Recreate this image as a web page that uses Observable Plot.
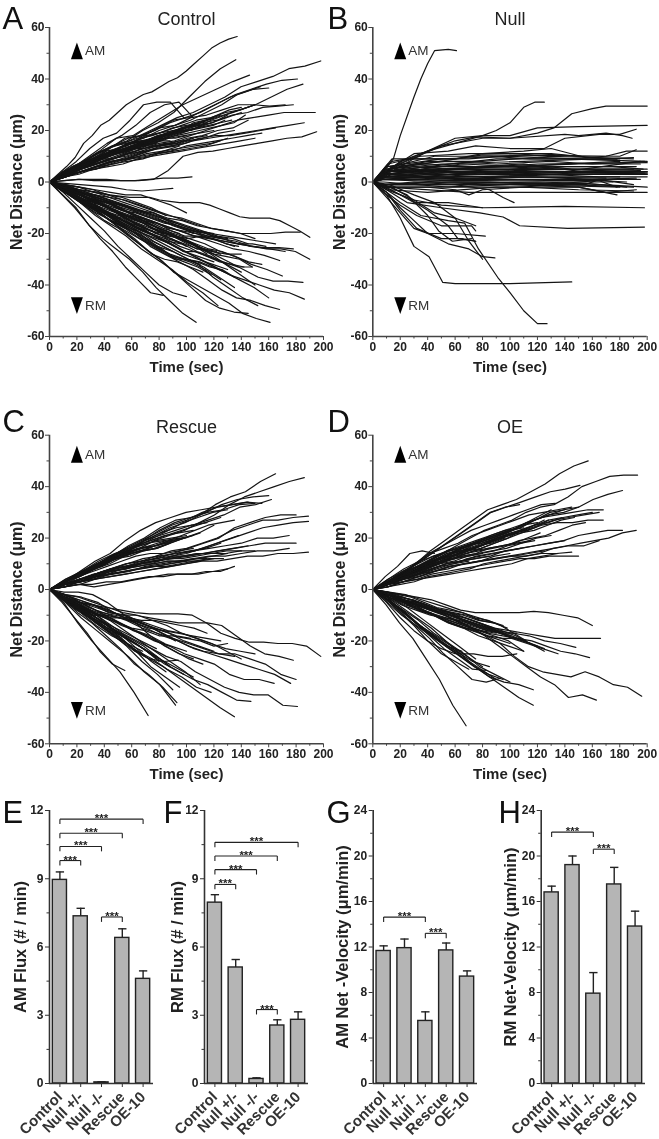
<!DOCTYPE html>
<html><head><meta charset="utf-8">
<script src="https://cdn.jsdelivr.net/npm/d3@7"></script>
<script src="https://cdn.jsdelivr.net/npm/@observablehq/plot@0.6"></script>
<style>html,body{margin:0;padding:0;background:#fff;overflow:hidden}#page{position:relative;width:659px;height:1139px;overflow:hidden}</style>
</head><body><div id="page"></div>
<script>
// Each even track: [end time, y samples evenly spaced in time after (0,0)]
const controlTracks = [
[137,3,6,9.5,15,18,22,24,27,30,32,34,35,37,39,40.5,43,46,49,52,54,55.5,56.5],
[136,3,7,11,14,16,20,23,27,33,39,44,47.5],
[146,4,8,12,17,18,22,26,30,33,36,39,41.5],
[198,3,7,11,14,16,19,22,25,27,30,33,37,39,41,44,45,47],
[181,3,6,9,12,14,18,21,24,25,28,31,34,36,38,39.5,40],
[185,2,5,8,11,13,15,18,20,22,24,26,28,30,33,36,38],
[160,4,7,10,12,15,17,20,22,24,27,30,34,36,36.5],
[154,3,6,9,13,17,18,20,23,25,27,30,33,35,37],
[178,3,5,8,11,12,14,17,19,21,23,24,26,27,29,29.5,30],
[172,2,6,10,14,17,18,21,22,25,26,28,30,30,29.5,30],
[194,2,5,7,9,11,13,15,16,18,20,22,24,25,26,27,27,27],
[186,2,4,6,8,10,12,13,14,16,17,18,19,20,21,22,23],
[195,0.5,1,0.5,0.5,0.5,0.5,1,4.5,10,11.5,12,13,14,15,16,17,17.5,19.5],
[104,0.5,1,1,1,0.5,0.5,1,1.5,1.5,2],
[98,4,8,13,17,19,24,30,31,31,25],
[105,4,7,11,15,18,22,27,30,31,25],
[150,3,7,10,13,15,17,18,20,22,24,25,27,28,30],
[140,3,6,9,11,13,15,17,18,20,21,23,25,27],
[130,3,6,9,10,12,15,17,19,20,22,23,26],
[150,3,5,7,9,11,13,15,17,19,21,24,26,28,30],
[120,2,5,8,11,13,15,18,19,21,22,23,25],
[125,3,6,8,11,15,17,19,20,22,24,26],
[110,3,5,8,10,13,15,16,18,20,21,22],
[145,3,5,7,9,10,12,14,15,17,18,20,21,24],
[135,2,4,6,8,9,11,13,14,16,17,19,20],
[165,2,4,6,8,9,11,13,14,15,17,18,18,19,20,21],
[155,2,4,5,7,9,10,11,12,14,15,16,17,18,19],
[120,3,6,9,11,12,14,15,17,18,19,20],
[100,3,6,8,10,12,14,16,18,20],
[115,2,5,7,9,11,13,14,15,17,18],
[90,3,6,9,11,13,15,17,19],
[130,2,4,6,7,9,11,12,13,14,15,17],
[95,2,4,6,8,9,10,12,14],
[105,3,5,7,9,11,12,14,15,17],
[85,3,6,9,12,14,16,17],
[125,2,4,5,7,8,9,11,12,13,14,16],
[150,2,3,5,6,7,9,10,11,12,13,14,15,16,17],
[140,2,4,6,9,10,12,14,14,17,19,20,23,24,26,28,29],
[118,2,4,5,8,9,11,12,14,15,16,17,19,20,20,22,23],
[128,3,5,7,8,10,12,13,15,16,18,19,20,21,22,24],
[92,3,5,7,8,10,11,12,13,13,14,15,15],
[78,2,4,7,9,10,12,13,13,14,15],
[110,2,3,6,7,9,9,11,12,14,14,15,16,16,17],
[100,3,6,8,9,12,13,15,16,17,17,17,18],
[88,3,4,6,8,9,11,12,14,15,16,16],
[133,2,4,7,9,10,11,12,14,16,17,19,20,21,22,23,24],
[115,3,5,7,9,12,14,15,16,18,19,21,22,23],
[105,2,5,8,9,11,12,14,16,18,19,21,22],
[75,4,6,9,12,14,15,16,16],
[143,3,6,8,9,10,12,13,14,15,17,18,19,20,21,22,23,26],
[90,-0.5,-1,-1.5,-2,-3,-3.5,-3,-2.5],
[107,-5,-10,-17,-22,-26,-30,-35,-41,-46,-51,-54.5],
[83,-5,-10,-16,-22,-27,-33,-38,-43,-44],
[100,-4,-9,-14,-19,-25,-30,-35,-40,-43,-44.5],
[161,-3,-7,-11,-15,-18,-22,-26,-30,-35,-38,-41,-44,-47,-51,-53,-54.5],
[123,-4,-8,-13,-17,-21,-26,-30,-34,-39,-43,-48],
[168,-3,-7,-10,-13,-17,-20,-25,-28,-31,-34,-38,-42,-45,-46,-48,-49.5],
[145,-3,-6,-10,-14,-18,-22,-27,-31,-36,-41,-46,-49,-50.5,-51],
[186,-3,-6,-9,-12,-15,-18,-21,-24,-27,-30,-33,-36,-38,-40,-42,-43,-45.5],
[185,-2,-5,-8,-10,-13,-15,-18,-20,-22,-25,-28,-31,-34,-37,-38.5,-38.5,-39],
[190,-2,-4,-6,-9,-11,-13,-15,-17,-19,-21,-22,-23,-24,-25,-26,-26,-27,-30],
[190,-1,-2,-3,-3.5,-4,-5,-5.5,-6,-6,-6,-7,-7.5,-8,-8,-8,-9,-10.5,-12,-13.5,-14,-14,-14,-15,-17,-19,-21.5],
[183,-2,-4,-5,-7,-9,-11,-12,-14,-15,-17,-18,-19,-20,-20,-20,-19.5,-19.5],
[172,-2,-4,-6,-8,-10,-13,-15,-17,-19,-20,-22,-24,-25,-26,-27],
[178,-2,-4,-6,-8,-11,-12,-14,-16,-17,-19,-21,-22,-23,-25,-25.5,-25.5,-26],
[165,-2,-4,-7,-9,-11,-13,-15,-17,-19,-20,-21,-22,-23,-24],
[168,-2,-5,-7,-10,-13,-14,-16,-18,-20,-22,-24,-26,-27,-28.5,-30.5],
[170,-3,-5,-8,-11,-13,-15,-18,-20,-22,-24,-27,-29,-32,-34,-36.5],
[160,-3,-6,-9,-12,-15,-18,-20,-23,-26,-29,-32,-35,-38,-41,-45],
[152,-3,-6,-10,-13,-16,-19,-23,-26,-29,-32,-37,-41,-45,-48],
[148,-3,-6,-8,-12,-15,-18,-20,-22,-25,-27,-29,-31,-33,-33],
[150,-2,-5,-7,-10,-12,-14,-17,-19,-22,-25,-28,-32,-36,-40],
[140,-3,-6,-9,-13,-15,-17,-19,-22,-24,-27,-29,-32,-35],
[130,-4,-7,-10,-13,-16,-19,-22,-25,-28,-30,-32,-34],
[120,-3,-6,-8,-10,-14,-17,-21,-24,-27,-29,-31],
[115,-3,-5,-7,-9,-12,-15,-18,-21,-24,-28],
[125,-3,-5,-8,-11,-14,-16,-19,-21,-24,-26,-28],
[110,-4,-7,-11,-15,-18,-22,-25,-28,-30,-32],
[135,-2,-4,-6,-8,-10,-12,-14,-17,-19,-21,-23,-25],
[145,-2,-4,-5,-7,-9,-11,-13,-15,-17,-19,-21,-22,-24],
[100,-3,-6,-9,-12,-14,-17,-20,-22,-25],
[95,-2,-4,-7,-9,-12,-15,-18,-20],
[105,-2,-4,-6,-8,-10,-12,-14,-17,-20],
[90,-4,-7,-10,-13,-17,-21,-25,-27],
[130,-2,-3,-5,-7,-9,-11,-13,-15,-17,-19,-21,-22],
[120,-2,-3,-5,-6,-8,-10,-12,-15,-17,-19,-20],
[85,-1,-2,-3,-5,-6,-8,-10,-13],
[110,-1,-3,-4,-6,-7,-9,-11,-13,-15,-17],
[150,-1,-2,-4,-5,-7,-9,-11,-13,-14,-16,-18,-19,-20,-22],
[140,-3,-5,-8,-10,-13,-15,-17,-20,-23,-26,-27,-28,-28],
[100,-1,-2,-3,-4,-5,-5,-7,-9,-12],
[125,-4,-8,-12,-15,-18,-22,-26,-29,-31,-34,-38],
[135,-4,-8,-11,-15,-18,-21,-24,-27,-30,-33,-37,-41],
[142,-2,-5,-7,-10,-13,-14,-17,-19,-22,-24,-27,-27,-29,-31,-32,-33],
[135,-3,-6,-9,-11,-14,-17,-20,-23,-26,-29,-30,-31,-33,-34,-37],
[128,-3,-5,-8,-11,-14,-17,-19,-23,-26,-30,-30,-31,-33,-35],
[118,-3,-6,-10,-13,-17,-20,-23,-26,-29,-31,-33,-36],
[112,-2,-6,-9,-12,-16,-20,-24,-28,-30,-31,-33,-35],
[155,-2,-5,-8,-10,-12,-15,-17,-20,-21,-22,-24,-26,-27,-29,-31,-32],
[148,-1,-3,-6,-8,-11,-14,-16,-18,-20,-21,-23,-26,-28,-29,-30,-33],
[122,-2,-4,-6,-9,-11,-13,-15,-18,-20,-22,-24,-26,-27],
[108,-2,-4,-7,-9,-11,-14,-16,-19,-22,-24,-26],
[96,-3,-5,-8,-11,-13,-16,-19,-21,-23,-24],
[88,-3,-6,-9,-11,-15,-18,-20,-22,-24],
[138,-2,-4,-6,-8,-11,-14,-17,-19,-20,-21,-22,-21,-22,-24,-25],
[126,-1,-3,-5,-7,-9,-12,-15,-16,-18,-19,-20,-21,-22],
[158,-2,-3,-5,-7,-10,-12,-14,-16,-19,-21,-21,-22,-23,-24,-24,-25]
];
// Each pair track: t,y,t,y... after (0,0)
const nullTracks = [
[15,9,20,18,30,33,35,40,40,46,45,51,55,51.5,61,51],
[20,8,40,12,60,15,80,18,90,20,100,23,110,29,118,31,125,31],
[20,6,40,12,60,17,80,18,100,18,120,21,150,21.5,200,22],
[20,7,50,14,80,17,100,17,120,19,132,21,145,26.5,160,28.5,170,29.5,200,29.5],
[15,6,35,11,60,16,75,17.5,100,17,140,18.5,150,18,170,19,182,18,189,17],
[14,8,25,9,60,9,80,11,110,12,130,13,155,9.5,170,10,185,12,200,12],
[18,7,30,11,55,12,75,14,100,13,125,13,140,17,165,18.5,180,18.5,192,20.5],
[12,5,80,10.5,180,10,192,12.5],
[14,9,70,9,120,11,178,9],
[10,4,40,6,90,9,140,9,200,8],
[10,5,50,7,110,8,190,9.5],
[12,3,60,5,120,7,200,7.5],
[8,4,40,6,100,6,180,8],
[10,3,50,5,100,6,150,7,195,7],
[8,3,30,4,70,5,130,5,200,5],
[10,2,50,4,110,5,195,4.5],
[8,4,60,4,140,4,200,4],
[8,3,50,3.5,100,4,160,3.5,200,3.5],
[6,2,50,3,120,3,190,4],
[9,4,40,5,90,6,140,5,185,4],
[7,1,60,3,150,3,200,3],
[8,3,50,2,110,2.5,200,3.5],
[10,2,50,2,130,2,180,2],
[6,1,40,1,100,2,170,1.5],
[7,2,60,1,130,1,195,1],
[8,1,60,0.5,150,1,185,0],
[6,1,50,0,140,0,175,0],
[8,-1,60,0,120,-0.5,190,-2],
[9,-1,50,-1,110,-1,180,-2],
[6,-1,60,-1,150,-0.5,200,-2],
[8,-2,50,-2,100,-1,150,-2,178,-5],
[10,-2,40,-2,60,-3,70,-5,80,-3,110,-2,150,-3,190,-3.5],
[10,-2,70,-4,150,-4,200,-4],
[12,-3,40,-4,90,-2,150,-2,170,-4,192,-3],
[8,-1,30,0,60,-1,85,-3,95,-6,103,-8],
[12,5,40,8,80,8,130,10,190,9],
[10,6,50,9,100,10,150,9,180,8.5],
[14,6,45,10,85,10,115,9,178,9],
[10,4,70,5,140,4,195,8],
[11,7,35,10,70,11,130,11,150,10],
[9,3,40,5,80,3,125,4,200,4],
[10,5,30,7,55,8,90,7,130,8,160,7,198,8],
[9,4,30,6,60,5,100,5,140,6,175,6,197,5],
[11,6,40,7,75,6,110,7,145,5,190,5],
[8,2,30,5,70,3,120,4,165,4,198,3.5],
[10,3,35,2,80,4,125,3,170,3,199,3],
[7,3,25,3,65,4,105,3,150,4,195,4],
[12,4,35,5,65,7,110,6,150,6,192,6],
[9,2,40,3,85,2,125,3,165,2,200,2],
[6,2,30,2,70,1,115,2,160,1,192,1.5],
[7,1,45,2,90,1,135,0.5,170,0.5,190,-1],
[8,-1,35,-1,75,-0.5,120,0,155,-0.5,185,-2],
[10,3,25,4,55,3,95,4,135,4,200,3],
[7,-1,40,0,85,0,125,-1,155,-1,165,1],
[8,0,55,-2,110,-2,150,0,165,0.5,178,-2],
[10,-3,30,-7,50,-9,80,-10,140,-9.5,198,-10],
[10,-3,25,-8,50,-10,78,-12,95,-13.6,107,-17,142,-18,198,-17.5],
[10,-5,20,-14,30,-25,41,-29,51,-39,60,-39.5,100,-39.5,145,-38.8],
[10,-4,20,-8,35,-13,55,-15,67,-16,77,-26,91,-37,100,-43,110,-50,120,-55,127,-55],
[10,-4,20,-10,30,-15,40,-20,55,-24,70,-26,80,-29,89,-29.5],
[10,-6,20,-12,30,-18,40,-20,60,-20,82,-21],
[10,-4,20,-11,32,-18,50,-22,65,-22,75,-23],
[12,-3,25,-6,40,-11,55,-17,62,-22,75,-23],
[14,-2,30,-7,45,-12,60,-14,70,-23,80,-30],
[12,-1,30,-5,45,-8,60,-14,75,-17],
[10,-5,20,-9,32,-13,50,-17,72,-17,75,-19],
[12,-2,25,-5,40,-13,48,-19,58,-23,72,-22],
[10,-2,30,-8,55,-8,80,-10]
];
const rescueTracks = [
[165,3,6,9,12,14,18,21,24,26,29,33,36,38,42,45],
[186,3,6,8,11,14,16,19,21,23,26,29,33,36,38,40,42,43.5],
[160,3,6,9,13,15,19,23,26,28,30,33,35,36,36.5],
[162,3,6,9,12,15,19,22,24,25,27,29,32,33,35],
[150,3,6,10,13,17,20,24,27,28,30,31,33,33.5],
[155,3,7,11,14,19,23,26,28,30,31,32,33,34,33.5],
[145,3,6,9,13,16,19,22,25,27,30,32,33,34],
[130,3,5,8,11,14,17,20,23,26,28,30,31],
[125,3,6,9,12,15,18,20,22,24,26,28],
[115,4,7,10,13,16,19,21,23,25,26],
[105,3,6,9,12,15,17,19,21,22,23],
[100,3,6,9,13,15,17,19,20,21],
[95,4,7,11,14,16,18,19,20],
[85,3,7,10,13,15,17,19],
[90,3,6,8,11,14,16,17,19],
[110,3,5,8,10,13,15,17,19,20,22],
[120,2,5,8,11,13,15,16,18,20,22,25],
[75,3,6,9,12,14,16,17],
[105,3,5,8,11,13,14,16,17,18,20,21],
[98,2,5,7,10,12,14,15,16,18,20],
[88,3,5,8,10,12,13,15,16,18],
[135,3,5,8,9,12,14,15,17,19,21,23,25,26,27],
[180,2,4,6,8,10,11,12,14,16,18,20,24,26,28,29,29],
[189,2,4,6,8,10,11,13,15,16,18,20,23,25,27,27,28,28.5],
[189,2,4,5,7,8,10,11,13,14,16,18,20,22,24,25,26,26.5],
[175,2,4,6,8,9,11,13,14,15,16,17,18,20,20,21],
[180,2,3,5,7,8,10,11,12,13,14,15,16,17,18,18,18],
[175,2,3,5,6,7,9,10,11,12,13,13,14,15,15,16],
[189,1,2,4,5,6,7,8,9,10,11,11,12,13,13,14,14,14.5],
[135,1,2,2,3,3,4,5,5,6,6,7,7,9],
[130,1,2,1,2,3,4,5,6,6,6,7,8],
[150,2,4,6,7,9,10,11,12,12,13,14,14,15,15],
[140,2,3,5,7,8,10,11,12,13,14,14,15,15],
[130,2,4,5,7,8,9,10,11,11,12,13,14],
[120,2,3,5,6,7,8,9,10,11,11,12],
[110,2,3,4,5,6,7,8,9,10,11],
[100,1,3,4,6,7,8,9,10,11],
[105,3,5,7,9,11,13,14,14,15,16],
[125,2,4,6,8,10,12,13,14,15,16,18],
[145,2,4,6,8,9,11,12,13,13,14,15,16,17],
[115,2,3,5,7,8,9,10,10,11,11,12,12],
[127,1,3,4,6,7,8,9,9,10,11,12,12],
[138,2,3,5,6,8,9,10,12,14,15,17,19,21],
[108,2,4,5,7,8,10,11,12,13,14],
[198,-3,-5,-6,-7,-8,-9,-9.5,-9.5,-9.5,-10,-13,-17,-19,-20.5,-20.5,-21,-21,-22,-26],
[178,-2,-4,-6,-8,-10,-10,-11,-12,-13,-13,-13,-14,-18,-22,-25,-26,-27.5],
[180,-3,-5,-7,-9,-10,-13,-16,-19,-22,-24,-25,-25,-27,-29,-33,-35],
[176,-2,-3,-5,-9,-12,-15,-18,-20,-23,-25,-27,-29,-31,-33,-36.5],
[164,-3,-6,-9,-11,-14,-17,-20,-22,-25,-27,-29,-33,-35,-35,-36.5],
[181,-3,-6,-9,-13,-17,-20,-23,-26,-28,-32,-35,-38,-40,-41,-41,-45,-45.5],
[147,-3,-7,-11,-15,-18,-21,-25,-29,-32,-35,-37,-40,-43,-43.5],
[135,-4,-8,-12,-16,-20,-24,-27,-30,-34,-38,-42,-46,-49.5],
[72,-5,-13,-20,-26,-32,-40,-49],
[92,-5,-11,-16,-21,-26,-32,-37,-45],
[93,-4,-9,-13,-18,-23,-29,-33,-38,-44],
[55,-5,-11,-17,-24,-29,-31.5],
[125,-3,-7,-10,-10,-11,-13,-15,-16,-17,-18,-19,-20],
[130,-3,-6,-9,-11,-13,-15,-16,-18,-18,-19,-20,-22,-21],
[118,-4,-8,-12,-16,-20,-24,-27,-31,-34,-38,-40],
[90,-4,-8,-13,-17,-22,-28,-33,-39],
[95,-3,-7,-11,-15,-19,-24,-30,-34,-38],
[94,-2,-6,-10,-14,-19,-24,-27,-28,-27.5],
[110,-3,-6,-9,-12,-16,-20,-24,-28,-32,-37],
[105,-4,-7,-11,-14,-18,-21,-25,-28,-31,-34],
[85,-3,-6,-10,-14,-18,-23,-28,-32],
[80,-3,-6,-10,-15,-19,-23,-28],
[75,-4,-8,-12,-17,-21,-25],
[70,-3,-8,-13,-17,-22,-26],
[100,-2,-5,-8,-11,-14,-17,-20,-22,-24],
[120,-3,-5,-6,-8,-11,-13,-15,-17,-20,-22,-24],
[140,-2,-4,-6,-9,-10,-12,-14,-16,-17,-19,-21,-24,-27],
[135,-3,-5,-8,-10,-12,-15,-17,-19,-21,-23,-25,-26],
[105,-1,-1,-2,-5,-9,-13,-18,-22,-25,-27],
[150,-2,-3,-5,-7,-9,-10,-12,-14,-17,-19,-21,-23,-24,-25],
[88,-3,-7,-11,-14,-17,-20,-23,-26,-30],
[78,-4,-7,-11,-14,-17,-20,-23],
[68,-4,-9,-14,-18,-21,-24],
[98,-4,-8,-11,-13,-16,-19,-22,-26,-30,-33],
[112,-3,-5,-8,-10,-13,-16,-18,-21,-24,-27,-29],
[84,-3,-6,-9,-11,-14,-16,-18,-21],
[92,-4,-7,-10,-10,-11,-12,-14,-17,-20],
[103,-4,-6,-9,-11,-11,-12,-14,-16,-18,-19],
[115,-2,-4,-7,-9,-10,-11,-12,-12,-13,-14,-15,-17]
];
const oeTracks = [
[157,3,6,10,15,19,23,27,31,33,35,38,41,45,48,50],
[151,3,6,10,14,18,22,26,30,32,34,36,38,39,40.5],
[193,2,5,8,11,14,17,20,23,25,27,30,32,33,36,40,42,44,44.5,44.5],
[182,3,5,7,10,13,16,18,21,23,24,27,29,30,32,35,37,38.5],
[168,2,5,8,11,14,17,19,21,23,26,28,29,30,31,31],
[168,3,5,8,10,13,15,17,20,22,23,25,26,26,27,27],
[182,2,4,6,8,10,11,12,13,15,16,17,18,19,21,22,23,23],
[192,1,2,3,5,6,7,8,10,11,12,13,14,16,17,18,19,20,22,23],
[150,1,3,4,6,7,8,9,10,11,12,12,13,13,13],
[145,2,3,5,7,9,10,11,12,13,13,14,14,14.5],
[107,3,7,10,14,18,22,26,30,32,33],
[133,3,6,10,14,17,20,23,25,27,29,31,33,33.5],
[145,3,6,10,14,16,18,21,23,25,27,29,30,31,32],
[150,3,6,9,12,15,17,19,21,23,25,27,29,31,32],
[165,2,5,8,10,12,15,17,19,21,23,25,27,28,29,30],
[160,3,5,8,11,13,15,17,19,21,23,25,26,28,29,30],
[140,3,5,8,11,14,15,18,20,22,24,27,30,31],
[130,3,6,9,11,14,16,18,20,22,25,28,31],
[125,3,5,8,11,13,15,17,20,22,24,27],
[120,2,5,8,11,13,16,18,20,22,25,26],
[110,4,7,10,13,15,16,19,21,23,24],
[100,3,7,9,12,15,17,19,21,23],
[90,4,8,11,13,15,17,18,20],
[105,3,5,7,10,13,15,16,18,20,22],
[115,2,4,7,9,11,13,15,16,17,18,19],
[130,2,4,6,9,11,13,14,15,16,18,20,21],
[140,2,4,6,8,10,11,13,14,15,16,17,18,19],
[165,2,3,5,7,8,10,11,12,13,14,15,16,17,17,19],
[125,2,4,5,7,9,10,11,12,13,14,15],
[100,2,4,6,7,9,10,11,13,14],
[135,1,3,4,5,6,7,8,9,10,12,13,14],
[85,2,4,6,8,10,11,12,13],
[70,2,4,6,8,10,11],
[45,5,9,14,15,14],
[122,2,4,6,8,10,12,13,14,16,17,18,20,22],
[112,3,5,8,10,12,13,14,16,18,20,22,23],
[96,2,5,8,10,12,14,15,17,18,20],
[138,2,5,7,9,11,13,15,16,18,20,22,24,27,28],
[128,3,5,7,9,11,13,14,16,18,20,23,25,27],
[147,3,4,7,9,12,13,15,17,19,21,22,23,25,27,28],
[118,2,4,6,8,10,11,13,14,15,17,18,19],
[108,2,4,5,7,9,10,12,13,14,15,16],
[80,2,5,7,9,11,12,13,14],
[60,3,5,8,10,11,12],
[155,2,4,6,8,10,12,14,15,16,17,19,20,21,23,25,26],
[68,-6,-13,-19,-27,-35,-45,-53],
[160,-1,-2,-3,-4,-6,-8,-9,-9,-9,-9,-8.5,-9,-10,-11,-14],
[166,-2,-4,-5,-7,-9,-11,-13,-15,-16,-17,-18,-19,-19,-19,-19],
[158,-2,-4,-6,-8,-10,-13,-15,-17,-18,-19,-20,-22,-24,-25,-26.5],
[148,-2,-4,-6,-8,-10,-12,-14,-16,-17,-18,-20,-21,-22.5],
[135,-2,-4,-6,-8,-10,-12,-14,-16,-19,-21,-23,-25],
[196,-2,-4,-6,-8,-10,-12,-15,-18,-21,-26,-30,-32,-33,-34,-32,-34,-37,-38,-41.5],
[163,-2,-4,-6,-9,-11,-13,-15,-18,-22,-26,-30,-34,-37,-42,-41,-43],
[117,-4,-8,-13,-17,-22,-26,-30,-34,-38,-42,-45],
[117,-3,-7,-11,-15,-20,-25,-30,-34,-36,-37,-39],
[83,-3,-8,-13,-18,-23,-27,-31,-31.5],
[93,-4,-9,-14,-19,-25,-30,-35,-36,-34.5],
[105,-4,-8,-13,-17,-21,-25,-25,-26,-26,-25],
[100,-4,-8,-12,-17,-21,-25,-30,-33,-36],
[90,-4,-9,-14,-19,-23,-27,-31,-35],
[85,-5,-10,-15,-20,-24,-28,-30],
[80,-4,-9,-14,-18,-22,-26,-30],
[75,-3,-7,-12,-17,-22,-27],
[110,-2,-5,-7,-10,-12,-14,-16,-18,-20,-24],
[120,-2,-4,-6,-8,-10,-12,-14,-16,-18,-20,-22],
[115,-2,-4,-6,-8,-10,-13,-15,-17,-19,-21],
[105,-2,-4,-7,-9,-12,-14,-16,-18,-19,-19],
[100,-1,-3,-5,-7,-9,-12,-14,-16,-18],
[95,-3,-6,-8,-10,-12,-14,-16,-17],
[90,-2,-5,-8,-10,-13,-15,-16,-17],
[85,-3,-5,-7,-9,-12,-15,-17],
[100,-3,-5,-7,-10,-13,-15,-17,-19,-21],
[125,-2,-4,-5,-7,-8,-10,-12,-14,-16,-18,-21,-24],
[110,-3,-5,-8,-10,-13,-15,-18,-20,-22,-24],
[95,-1,-2,-4,-6,-8,-10,-12,-14],
[112,-1,-2,-3,-5,-7,-8,-9,-11,-12,-14,-17,-20],
[98,-1,-3,-4,-6,-8,-9,-10,-12,-13,-15],
[88,-2,-3,-5,-7,-9,-10,-12,-13],
[70,-5,-11,-16,-20,-25,-28,-31],
[65,-4,-8,-13,-18,-22,-24],
[95,-5,-10,-14,-18,-22,-26,-30,-33,-35],
[125,-1,-3,-4,-6,-8,-10,-11,-13,-15,-17,-19,-21,-23],
[105,-3,-6,-8,-10,-11,-12,-14,-16,-17,-17],
[60,-4,-9,-14,-20,-23,-25]
];
const categories = ["Control","Null +/-","Null -/-","Rescue","OE-10"];
const amFlux = [8.95,7.35,0.05,6.4,4.6];
const amFluxTop = [9.3,7.7,0.08,6.8,4.95];
const rmFlux = [7.95,5.1,0.2,2.55,2.8];
const rmFluxTop = [8.3,5.45,0.25,2.8,3.15];
const amVel = [11.65,11.9,5.5,11.7,9.4];
const amVelTop = [12.1,12.7,6.3,12.35,9.9];
const rmVel = [16.8,19.2,7.9,17.5,13.8];
const rmVelTop = [17.35,20,9.75,19,15.15];
// brackets: [from index, to index, level]
const amFluxBr = [[0,1,9.8],[0,2,10.42],[0,3,11],[0,4,11.62],[2,3,7.32]];
const rmFluxBr = [[0,1,8.75],[0,2,9.4],[0,3,10],[0,4,10.6],[2,3,3.25]];
const amVelBr = [[0,2,14.63],[2,3,13.2]];
const rmVelBr = [[0,2,22.1],[2,3,20.6]];
const timeTicks = [0,20,40,60,80,100,120,140,160,180,200];
const timeMinor = [10,30,50,70,90,110,130,150,170,190];
const distTicks = [-60,-40,-20,0,20,40,60];
const distMinor = [-50,-30,-10,10,30,50];

const FONT = "'Liberation Sans',Arial,sans-serif";
const INK = "#222";
const page = document.getElementById("page");
const evenRows = tr => tr.flatMap((a,k)=>{const n=a.length-1;return [{k,t:0,y:0},...a.slice(1).map((y,i)=>({k,t:a[0]*(i+1)/n,y}))];});
const pairRows = tr => tr.flatMap((a,k)=>{const r=[{k,t:0,y:0}];for(let i=0;i<a.length;i+=2)r.push({k,t:a[i],y:a[i+1]});return r;});
const tallUp = {draw(c,s){const r=Math.sqrt(s/Math.PI);c.moveTo(0,-r*1.4);c.lineTo(r,r*1.4);c.lineTo(-r,r*1.4);c.closePath();}};
const tallDown = {draw(c,s){const r=Math.sqrt(s/Math.PI);c.moveTo(0,r*1.4);c.lineTo(r,-r*1.4);c.lineTo(-r,-r*1.4);c.closePath();}};
function place(svg,left,top){Object.assign(svg.style,{position:"absolute",left:left+"px",top:top+"px",overflow:"visible",background:"transparent",fontFamily:FONT,filter:"blur(0.35px)"});page.appendChild(svg);}

function linePanel(o){
  place(Plot.plot({width:o.w,height:o.h,marginLeft:o.ml,marginRight:o.mr,marginTop:o.mt,marginBottom:o.mb,
    x:{domain:[0,200],axis:null},y:{domain:[-60,60],axis:null},
    marks:[
      Plot.line(o.rows,{x:"t",y:"y",z:"k",stroke:"#141414",strokeWidth:1.2,curve:"linear"}),
      Plot.ruleX([0],{stroke:"#444",strokeWidth:1.6}),
      Plot.ruleY([-60],{stroke:"#444",strokeWidth:1.6}),
      Plot.axisY({ticks:distTicks,tickSize:4,tickPadding:1,fontSize:12,fontWeight:700,stroke:"#444",fill:INK,label:null,tickFormat:d=>d}),
      Plot.axisY({ticks:distMinor,tickSize:2.5,text:null,label:null,stroke:"#444"}),
      Plot.axisX({ticks:timeTicks,tickSize:4,tickPadding:2,fontSize:12,fontWeight:700,stroke:"#444",fill:INK,label:null,anchor:"bottom",tickFormat:d=>d}),
      Plot.axisX({ticks:timeMinor,tickSize:2.5,text:null,label:null,anchor:"bottom",stroke:"#444"}),
      Plot.text(["Net Distance (μm)"],{frameAnchor:"left",textAnchor:"middle",rotate:-90,dx:-o.ml+o.yl,fontSize:16,fontWeight:700,fill:INK}),
      Plot.text(["Time (sec)"],{frameAnchor:"bottom",dy:35,fontSize:15,fontWeight:700,fill:INK}),
      Plot.text([o.title],{frameAnchor:"top",dy:-8,lineAnchor:"middle",fontSize:18,fill:INK}),
      Plot.text([o.letter],{frameAnchor:"top-left",dx:-o.ml+o.lx,dy:o.ly,lineAnchor:"bottom",textAnchor:"start",fontSize:31,fill:"#111"}),
      Plot.dot([[20,o.am]],{x:d=>d[0],y:d=>d[1],r:6,symbol:tallUp,fill:"#000",stroke:"none"}),
      Plot.dot([[20,o.rm]],{x:d=>d[0],y:d=>d[1],r:6,symbol:tallDown,fill:"#000",stroke:"none"}),
      Plot.text([[20,o.am,"AM"],[20,o.rm,"RM"]],{x:d=>d[0],y:d=>d[1],text:d=>d[2],dx:8,textAnchor:"start",fontSize:13.5,fill:"#333"})
    ]}),o.left,o.top);
}
function barPanel(o){
  const rows=categories.map((c,i)=>({c,i,v:o.vals[i],t:o.tops[i]}));
  const n=categories.length;
  place(Plot.plot({width:o.w,height:344,marginLeft:o.ml,marginRight:o.mr,marginTop:15,marginBottom:56,
    x:{domain:[0,n],axis:null},y:{domain:[0,o.max],axis:null},
    marks:[
      Plot.ruleX(rows,{x:d=>d.i+0.5,y1:"v",y2:"t",stroke:"#222",strokeWidth:1.4}),
      Plot.link(rows,{x1:d=>d.i+0.3,x2:d=>d.i+0.7,y1:"t",y2:"t",stroke:"#222",strokeWidth:1.4}),
      Plot.rectY(rows,{x1:d=>d.i+0.16,x2:d=>d.i+0.84,y1:0,y2:"v",fill:"#b5b5b5",stroke:"#222",strokeWidth:1.4}),
      Plot.ruleX([0],{stroke:"#333",strokeWidth:1.6}),
      Plot.ruleY([0],{stroke:"#333",strokeWidth:1.6}),
      Plot.axisY({ticks:o.major,tickSize:4,tickPadding:2,fontSize:12,fontWeight:700,stroke:"#333",fill:INK,label:null,tickFormat:d=>d}),
      Plot.axisY({ticks:o.minor,tickSize:2.5,text:null,label:null,stroke:"#333"}),
      Plot.axisX({ticks:rows.map(d=>d.i+0.5),tickFormat:d=>categories[d-0.5],tickSize:4,tickPadding:7,tickRotate:-45,fontSize:15,fontWeight:700,stroke:"#333",fill:"#333",label:null,anchor:"bottom"}),
      Plot.link(o.br,{x1:d=>d[0]+0.5,x2:d=>d[1]+0.5,y1:d=>d[2],y2:d=>d[2],stroke:"#222",strokeWidth:1.1}),
      Plot.link(o.br,{x:d=>d[0]+0.5,y1:d=>d[2],y2:d=>d[2]-o.max*0.018,stroke:"#222",strokeWidth:1.1}),
      Plot.link(o.br,{x:d=>d[1]+0.5,y1:d=>d[2],y2:d=>d[2]-o.max*0.018,stroke:"#222",strokeWidth:1.1}),
      Plot.text(o.br,{x:d=>(d[0]+d[1])/2+0.5,y:d=>d[2],text:()=>"***",lineAnchor:"bottom",dy:3,fontSize:11.5,fontWeight:700,fill:"#222"}),
      Plot.text([o.label],{frameAnchor:"left",textAnchor:"middle",rotate:-90,dx:-o.ml+o.yl,fontSize:16.5,fontWeight:700,fill:INK}),
      Plot.text([o.letter],{frameAnchor:"top-left",dx:-o.ml+o.lx,dy:o.ly,lineAnchor:"bottom",textAnchor:"start",fontSize:31,fill:"#111"})
    ]}),o.left,795);
}
linePanel({rows:evenRows(controlTracks),left:0,top:0,w:329,h:385,ml:49,mr:6,mt:27,mb:49,title:"Control",letter:"A",lx:2,ly:1,yl:16,am:50.9,rm:-48});
linePanel({rows:pairRows(nullTracks),left:329,top:0,w:330,h:385,ml:43.3,mr:12.3,mt:27,mb:49,title:"Null",letter:"B",lx:-2,ly:1,yl:10,am:50.9,rm:-48});
linePanel({rows:evenRows(rescueTracks),left:0,top:385,w:329,h:400,ml:49,mr:6,mt:49.7,mb:41.7,title:"Rescue",letter:"C",lx:2,ly:-3,yl:16,am:52.6,rm:-47});
linePanel({rows:evenRows(oeTracks),left:329,top:385,w:330,h:400,ml:43.3,mr:12.3,mt:49.7,mb:41.7,title:"OE",letter:"D",lx:-2,ly:-3,yl:10,am:52.6,rm:-47});
barPanel({vals:amFlux,tops:amFluxTop,br:amFluxBr,max:12,major:[0,3,6,9,12],minor:[1.5,4.5,7.5,10.5],left:0,w:163,ml:49,mr:10,label:"AM Flux (# / min)",yl:20,letter:"E",lx:2,ly:12});
barPanel({vals:rmFlux,tops:rmFluxTop,br:rmFluxBr,max:12,major:[0,3,6,9,12],minor:[1.5,4.5,7.5,10.5],left:163,w:163,ml:41,mr:18,label:"RM Flux (# / min)",yl:14,letter:"F",lx:0,ly:12});
barPanel({vals:amVel,tops:amVelTop,br:amVelBr,max:24,major:[0,4,8,12,16,20,24],minor:[2,6,10,14,18,22],left:326,w:172,ml:46.7,mr:21,label:"AM Net -Velocity (μm/min)",yl:16,letter:"G",lx:0,ly:12});
barPanel({vals:rmVel,tops:rmVelTop,br:rmVelBr,max:24,major:[0,4,8,12,16,20,24],minor:[2,6,10,14,18,22],left:498,w:161,ml:42.7,mr:14,label:"RM Net-Velocity (μm/min)",yl:12,letter:"H",lx:0,ly:12});
</script></body></html>
